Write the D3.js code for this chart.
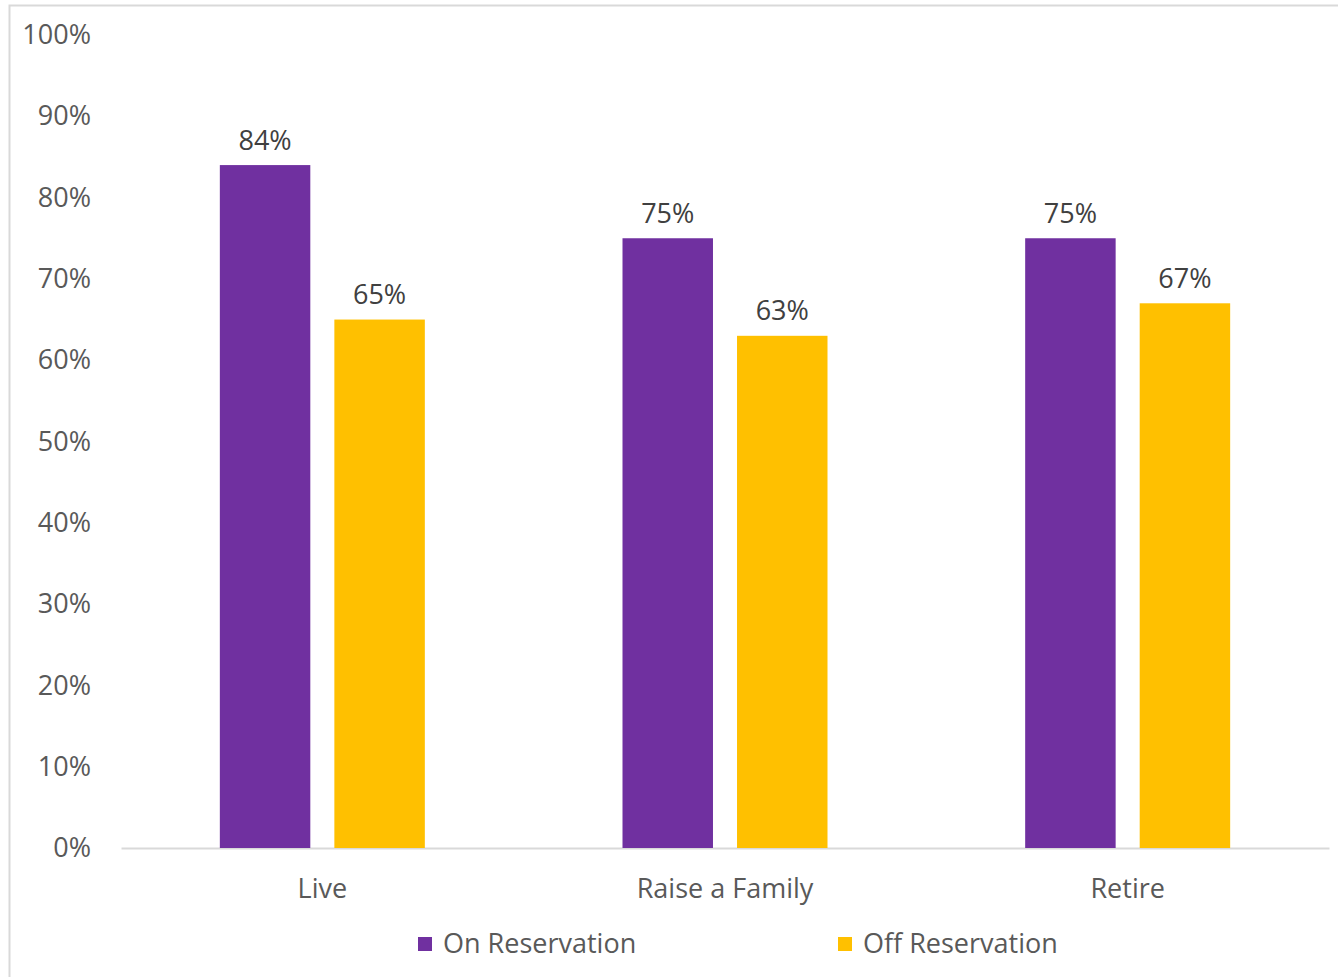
<!DOCTYPE html>
<html><head><meta charset="utf-8">
<script src="https://cdn.jsdelivr.net/npm/d3@7"></script>
<style>
html,body{margin:0;padding:0;background:#fff;}
svg text{font-family:"Open Sans",sans-serif;}
</style></head>
<body>
<svg id="c" width="1338" height="977"></svg>
<script>
const categories = ["Live", "Raise a Family", "Retire"];
const seriesNames = ["On Reservation", "Off Reservation"];
const onReservation = [84, 75, 75];
const offReservation = [65, 63, 67];
const yTicks = [0, 10, 20, 30, 40, 50, 60, 70, 80, 90, 100];
const colors = ["#7030A0", "#FFC000"];
const FONT = "'Open Sans', sans-serif";
const FS = "27px";

const svg = d3.select("#c");
svg.append("rect").attr("x", 9.5).attr("y", 5.5).attr("width", 1340).attr("height", 990)
  .attr("fill", "#fff").attr("stroke", "#d9d9d9").attr("stroke-width", 2);

const x0 = d3.scaleBand().domain(categories).range([121, 1329]).paddingInner(0).paddingOuter(0);
const x1 = d3.scaleBand().domain(seriesNames).range([0, 205]).paddingInner(0.21);
const y = d3.scaleLinear().domain([0, 100]).range([848, 35]);

const yAxis = d3.axisLeft(y).tickValues(yTicks).tickFormat(d => d + "%").tickSize(0).tickPadding(0);
const yg = svg.append("g").attr("transform", "translate(91,0)").call(yAxis);
yg.select(".domain").remove();
yg.selectAll("text").attr("fill", "#595959").style("font-size", FS).style("font-family", FONT);

const xAxis = d3.axisBottom(x0).tickSize(0).tickPadding(0);
const xg = svg.append("g").attr("transform", `translate(0,${y(0)})`).call(xAxis);
xg.select(".domain").attr("stroke", "#d9d9d9").attr("stroke-width", 2);
xg.selectAll("text").attr("fill", "#595959").attr("dy", "0.35em").attr("y", 41)
  .style("font-size", FS).style("font-family", FONT);

const data = categories.map((c, i) => ({ cat: c, vals: [onReservation[i], offReservation[i]] }));
const groups = svg.append("g").selectAll("g").data(data).join("g")
  .attr("transform", d => `translate(${x0(d.cat) + (x0.bandwidth() - 205) / 2},0)`);

groups.selectAll("rect").data(d => d.vals.map((v, j) => ({ s: seriesNames[j], v, j })))
  .join("rect")
  .attr("x", d => x1(d.s)).attr("width", x1.bandwidth())
  .attr("y", d => y(d.v)).attr("height", d => y(0) - y(d.v))
  .attr("fill", d => colors[d.j]);

groups.selectAll("text.lbl").data(d => d.vals.map((v, j) => ({ s: seriesNames[j], v, j })))
  .join("text").attr("class", "lbl")
  .attr("x", d => x1(d.s) + x1.bandwidth() / 2).attr("y", d => y(d.v) - 25).attr("dy", "0.35em")
  .attr("text-anchor", "middle").attr("fill", "#404040").style("font-size", FS)
  .text(d => d.v + "%");

const legendX = [418, 838];
const lg = svg.append("g");
seriesNames.forEach((s, i) => {
  lg.append("rect").attr("x", legendX[i]).attr("y", 937).attr("width", 14).attr("height", 14).attr("fill", colors[i]);
  lg.append("text").attr("x", legendX[i] + 25).attr("y", 944).attr("dy", "0.35em")
    .attr("fill", "#595959").style("font-size", FS).text(s);
});
</script>
</body></html>
